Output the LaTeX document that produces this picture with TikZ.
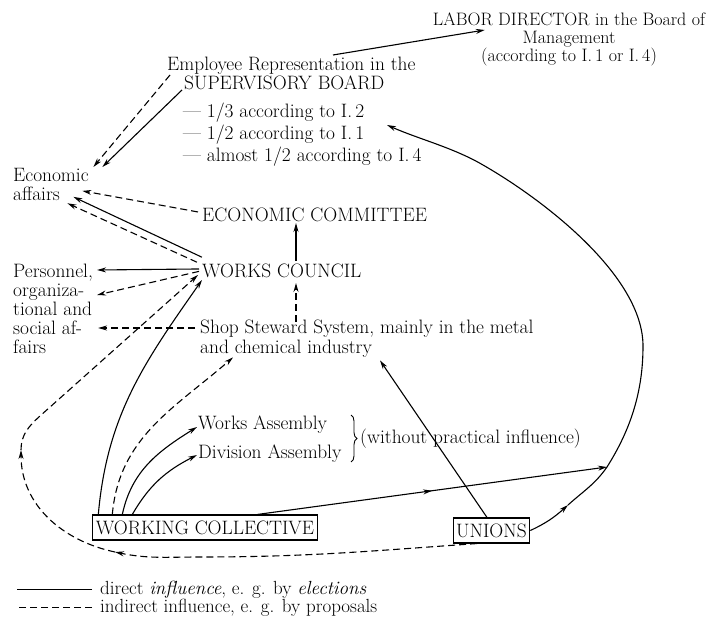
\documentclass[tikz,border=0pt]{standalone}
\usetikzlibrary{arrows.meta,decorations.markings,decorations.pathreplacing}
\begin{document}
\begin{tikzpicture}[x=1pt,y=1pt,
  txt/.style={inner sep=0pt, font=\fontsize{19.4}{20}\selectfont},
  ln/.style={line width=1.1pt},
  tip/.tip={Stealth[length=9pt,width=5pt]},
  arr/.style={ln,-tip},
  dsh/.style={dash pattern=on 7pt off 4pt},
  boxed/.style={draw, line width=1.1pt, inner xsep=3pt, inner ysep=0pt, minimum height=25pt, font=\fontsize{19.4}{20}\selectfont},
  midarr/.style={postaction={decorate}, decoration={markings, mark=at position #1 with {\arrow{tip}}}}
]
\useasboundingbox (0,0) rectangle (706,616);

% ---- nodes
\node[txt, font=\fontsize{18}{18}\selectfont, align=center, anchor=north] (labor) at (569,603.5)
  {LABOR DIRECTOR in the Board of\\Management\\(according to I.\,1 or I.\,4)};
\node[txt, anchor=base west] (emp) at (167,545) {Employee Representation in the};
\node[txt, anchor=base west] (sb) at (184,526.5) {SUPERVISORY BOARD};
\node[txt, anchor=base west] (l1) at (183,498) {--- 1/3 according to I.\,2};
\node[txt, anchor=base west] (l2) at (183,476) {--- 1/2 according to I.\,1};
\node[txt, anchor=base west] (l3) at (183,454) {--- almost 1/2 according to I.\,4};
\node[txt, font=\fontsize{19.4}{19}\selectfont, align=left, anchor=north west] (eca) at (13,447.5) {Economic\\affairs};
\node[txt, anchor=base west] (ecc) at (202,394) {ECONOMIC COMMITTEE};
\node[txt, anchor=base west] (wc) at (202,338) {WORKS COUNCIL};
\node[txt, font=\fontsize{19.4}{19}\selectfont, align=left, anchor=north west] (pers) at (13,352.5)
  {Personnel,\\organiza-\\tional and\\social af-\\fairs};
\node[txt, align=left, anchor=north west] (shop) at (200,296.5)
  {Shop Steward System, mainly in the metal\\and chemical industry};
\node[txt, anchor=base west] (wa) at (198,186) {Works Assembly};
\node[txt, anchor=base west] (da) at (198,158) {Division Assembly};
\node[txt, anchor=base west] (wop) at (360,173) {(without practical influence)};
\node[boxed] (wcol) at (205,88.5) {WORKING COLLECTIVE};
\node[boxed] (un) at (491.5,85.5) {UNIONS};

\draw[decorate, decoration={brace, amplitude=6pt}, line width=0.9pt]
  ([shift={(-9,28)}]wop.base west) -- ([shift={(-9,-19)}]wop.base west);

% ---- legend
\node[txt, font=\fontsize{19}{20}\selectfont, anchor=base west] (leg1) at (100,22) {direct \textit{influence}, e. g. by \textit{elections}};
\node[txt, font=\fontsize{19}{20}\selectfont, anchor=base west] (leg2) at (100,4) {indirect influence, e. g. by proposals};
\draw[ln] ([xshift=-8pt]leg1.west) -- ++(-75,0);
\draw[ln,dsh] ([xshift=-8pt]leg2.west) -- ++(-75,0);

% ---- connectors
\draw[arr] ([shift={(166,16)}]emp.base west) -- ([shift={(52,-17.5)}]labor.north west);
\draw[arr,dsh] ([shift={(3,-4)}]emp.base west) -- ([shift={(4.5,1.5)}]eca.north east);
\draw[arr] ([shift={(-2,-0.5)}]sb.base west) -- ([shift={(13.5,1.5)}]eca.north east);
\draw[arr,dsh] ([shift={(-4,3.4)}]ecc.west) -- ([shift={(-6.5,-6)}]eca.east);
\draw[arr] ([shift={(0,7)}]wc.north west) -- ([shift={(-15.5,-12)}]eca.east);
\draw[arr,dsh] ([shift={(-5,2)}]wc.north west) -- ([shift={(-21.5,-2)}]eca.south east);
\draw[arr] ([shift={(-3,2.4)}]wc.west) -- ([shift={(4,-6.5)}]pers.north east);
\draw[arr,dsh] ([shift={(-3,0)}]wc.west) -- ([shift={(4,-31.5)}]pers.north east);
\draw[arr] ([shift={(94,3)}]wc.north west) -- ([shift={(94,-1)}]ecc.base west);
\draw[arr,dsh] ([shift={(96,-2.5)}]shop.north west) -- ([shift={(94,-5)}]wc.base west);
\draw[arr,dsh] ([shift={(-5,-8.5)}]shop.north west) -- ([shift={(5,-64.5)}]pers.north east);

\draw[arr] ([xshift=6pt]wcol.north west) to[out=85,in=235] ([yshift=-2pt]wc.base west);
\draw[arr,dsh] ([xshift=20pt]wcol.north west) to[out=85,in=221] ([xshift=33pt]shop.south west);
\draw[arr] ([xshift=30pt]wcol.north west) to[out=78,in=212] ([shift={(-1,3)}]wa.base west);
\draw[arr] ([xshift=40pt]wcol.north west) to[out=60,in=207] ([shift={(-1,3)}]da.base west);

\coordinate (join) at (607,149);
\draw[arr, midarr=0.5] ([xshift=165pt]wcol.north west) -- (join);
\draw[arr] ([xshift=-4.5pt]un.north) -- ([shift={(180,-3)}]shop.south west);

% unions -> supervisory board (big curve)
\coordinate (mid1) at (568,111);
\coordinate (sbtip) at ([shift={(204,-7)}]l1.base west);
\coordinate (rim) at (643,270);
\coordinate (upper) at (483,451);
\draw[arr] (un.east) to[out=25,in=222] (mid1);
\draw[arr] (mid1) to[out=42,in=235] (join)
  .. controls (631,187) and (643,225) .. (rim)
  .. controls (643,340) and (544,416) .. (upper)
  .. controls (453,468.5) and (419,476.8) .. (sbtip);

% unions -> works council (dashed loop)
\coordinate (lp1) at (115,64);
\coordinate (lp2) at (21,166);
\draw[arr,dsh] ([xshift=-14.5pt]un.south) to[out=184,in=0] (200,59) to[out=180,in=-12] (lp1);
\draw[arr,dsh] (lp1) to[out=168,in=-90] (lp2);
\draw[arr,dsh] (lp2) to[out=90,in=222] (40,200) -- ([shift={(-4,3)}]wc.base west);
\end{tikzpicture}
\end{document}
